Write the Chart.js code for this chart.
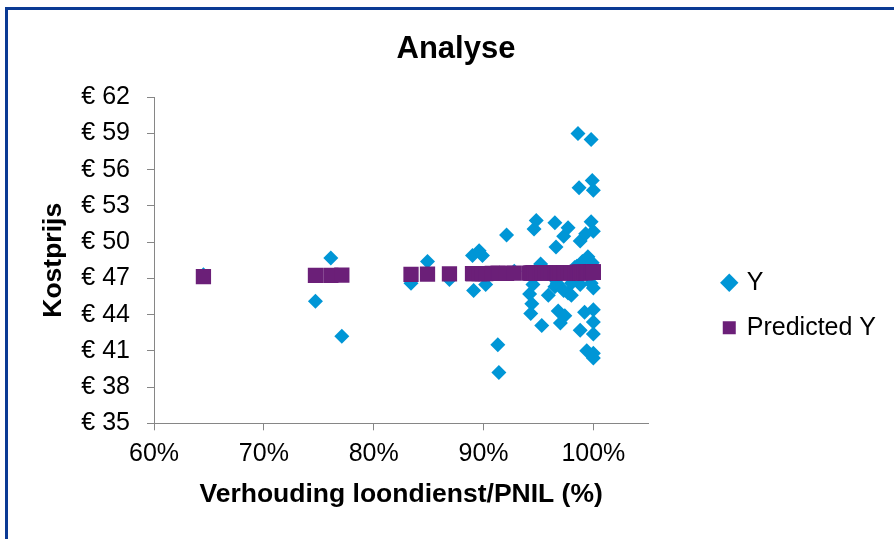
<!DOCTYPE html>
<html>
<head>
<meta charset="utf-8">
<title>Analyse</title>
<script src="https://cdn.jsdelivr.net/npm/chart.js@4.4.0/dist/chart.umd.min.js"></script>
<style>
  html, body { margin: 0; padding: 0; background: #fff; }
  #wrap { position: relative; width: 894px; height: 539px; overflow: hidden; }
  #frame {
    position: absolute; left: 5px; top: 7px; width: 910px; height: 550px;
    border-top: 3px solid #0b3a94; border-left: 3px solid #0b3a94;
  }
  canvas { position: absolute; left: 0; top: 0; }
</style>
</head>
<body>
<div id="wrap">
  <div id="frame"></div>
  <canvas id="chart" width="894" height="539"></canvas>
</div>
<script>
// ratio loondienst/PNIL (x) and kostprijs (y)
const xValues = [
  0.645, 0.747, 0.761, 0.771, 0.834, 0.849, 0.869,
  0.890, 0.891, 0.896, 0.899, 0.902, 0.908, 0.913, 0.914, 0.921, 0.928,
  0.942, 0.943, 0.944, 0.945, 0.946, 0.948, 0.952, 0.953, 0.956, 0.959,
  0.962, 0.965, 0.965, 0.966, 0.967, 0.968, 0.970, 0.973, 0.973, 0.974,
  0.977, 0.977, 0.980, 0.980, 0.983, 0.985, 0.986, 0.987, 0.988, 0.988,
  0.988, 0.990, 0.992, 0.993, 0.994, 0.995, 0.998, 0.998, 0.998, 0.999,
  0.999, 1.000, 1.000, 1.000, 1.000, 1.000, 1.000, 1.000, 1.000
];
const yValues = [
  47.3, 45.1, 48.7, 42.2, 46.6, 48.4, 46.9,
  48.9, 46.0, 49.3, 48.9, 46.5, 47.4, 41.5, 39.2, 50.6, 47.6,
  45.7, 44.1, 44.9, 46.5, 51.1, 51.8, 48.2, 43.1, 47.6, 45.6,
  47.2, 46.3, 51.6, 49.6, 46.6, 44.3, 43.3, 50.5, 46.0, 43.9,
  51.2, 45.8, 46.6, 45.6, 47.9, 48.0, 59.0, 54.5, 50.1, 46.5,
  42.7, 48.4, 44.2, 50.7, 41.0, 48.8, 58.5, 51.7, 46.6, 55.1,
  48.3, 54.3, 50.9, 46.2, 44.4, 43.4, 42.4, 40.8, 40.4
];
const predictedValues = [
  47.15, 47.25, 47.26, 47.27, 47.33, 47.35, 47.37,
  47.39, 47.39, 47.40, 47.40, 47.40, 47.41, 47.41, 47.41, 47.42, 47.43,
  47.44, 47.44, 47.44, 47.45, 47.45, 47.45, 47.45, 47.45, 47.46, 47.46,
  47.46, 47.47, 47.47, 47.47, 47.47, 47.47, 47.47, 47.47, 47.47, 47.47,
  47.48, 47.48, 47.48, 47.48, 47.48, 47.49, 47.49, 47.49, 47.49, 47.49,
  47.49, 47.49, 47.49, 47.49, 47.49, 47.50, 47.50, 47.50, 47.50, 47.50,
  47.50, 47.50, 47.50, 47.50, 47.50, 47.50, 47.50, 47.50, 47.50
];
const xTicks = [0.6, 0.7, 0.8, 0.9, 1.0];
const yTicks = [35, 38, 41, 44, 47, 50, 53, 56, 59, 62];

const FONT = "'Liberation Sans', Arial, sans-serif";
const AXIS_GREY = '#868686';
Chart.defaults.font.family = FONT;
Chart.defaults.color = '#000';

const ySeries = xValues.map((x, i) => ({ x, y: yValues[i] }));
const predSeries = xValues.map((x, i) => ({ x, y: predictedValues[i] }));

new Chart(document.getElementById('chart'), {
  type: 'scatter',
  data: {
    datasets: [{
      label: 'Y',
      data: ySeries,
      order: 2,
      pointStyle: 'rectRot',
      pointRadius: 7.5,
      borderWidth: 0,
      backgroundColor: '#0096d6',
      borderColor: '#0096d6'
    }, {
      label: 'Predicted Y',
      data: predSeries,
      order: 1,
      pointStyle: 'rect',
      pointRadius: 10.8,
      borderWidth: 0,
      backgroundColor: '#6b1f78',
      borderColor: '#6b1f78'
    }]
  },
  options: {
    responsive: false,
    animation: false,
    events: [],
    layout: { padding: { left: 26, right: 8, top: 0, bottom: 0 } },
    plugins: {
      tooltip: { enabled: false },
      title: {
        display: true,
        text: 'Analyse',
        font: { size: 31, weight: 'bold' },
        padding: { top: 30.4, bottom: 29.7 }
      },
      legend: {
        position: 'right',
        align: 'start',
        maxWidth: 400,
        title: { display: true, text: '', font: { size: 10 }, padding: { top: 238.2, bottom: 0 } },
        labels: {
          usePointStyle: true,
          boxWidth: 10,
          boxHeight: 13,
          padding: 20,
          font: { size: 25 },
          color: '#000',
          sort: (a, b) => a.datasetIndex - b.datasetIndex
        }
      }
    },
    scales: {
      x: {
        type: 'linear',
        min: 0.6,
        max: 1.05,
        afterBuildTicks: s => { s.ticks = xTicks.map(v => ({ value: v })); },
        afterFit: s => { s.height = 115.7; },
        ticks: {
          font: { size: 25 },
          padding: 9,
          callback: v => Math.round(v * 100) + '%'
        },
        grid: { drawOnChartArea: false, drawTicks: true, tickLength: 7, color: AXIS_GREY },
        border: { color: AXIS_GREY, width: 1 },
        title: {
          display: true,
          text: 'Verhouding loondienst/PNIL (%)',
          font: { size: 26.5, weight: 'bold' },
          padding: { top: 0, bottom: 28 }
        }
      },
      y: {
        type: 'linear',
        min: 35,
        max: 62,
        afterBuildTicks: s => { s.ticks = yTicks.map(v => ({ value: v })); },
        afterFit: s => { s.width = 128; },
        ticks: {
          font: { size: 25 },
          padding: 17,
          callback: v => '€ ' + v
        },
        grid: { drawOnChartArea: false, drawTicks: true, tickLength: 7, color: AXIS_GREY },
        border: { color: AXIS_GREY, width: 1 },
        title: {
          display: true,
          text: 'Kostprijs',
          font: { size: 26.5, weight: 'bold' },
          padding: { top: 12, bottom: 0 }
        }
      },
      // empty space between plot and legend
      gap: {
        type: 'linear',
        position: 'right',
        afterFit: s => { s.width = 56; },
        ticks: { display: false },
        grid: { display: false },
        border: { display: false }
      }
    }
  }
});
</script>
</body>
</html>
